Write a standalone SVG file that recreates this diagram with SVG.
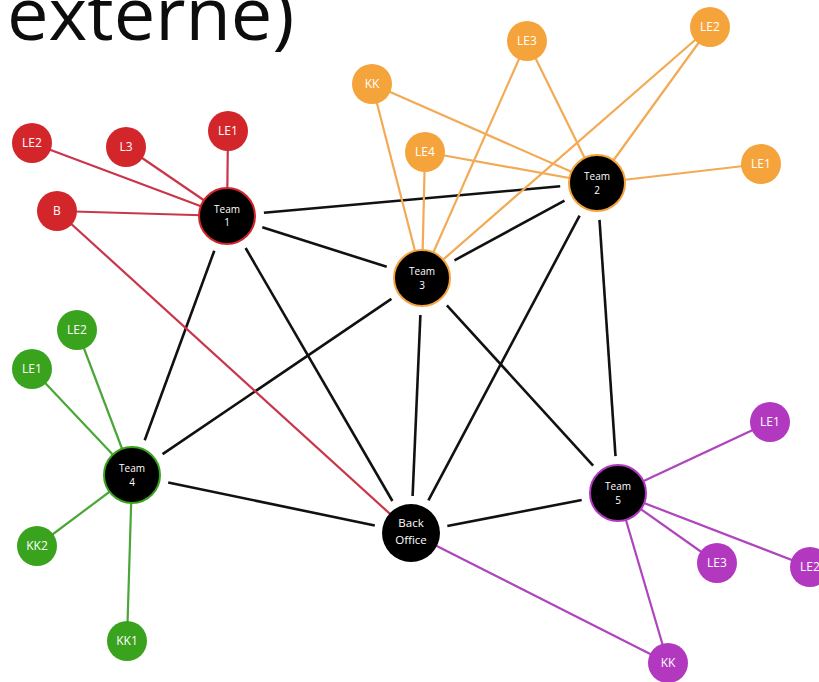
<svg xmlns="http://www.w3.org/2000/svg" width="819" height="682" viewBox="0 0 819 682">
<style>
text{font-family:"Open Sans","Liberation Sans",sans-serif;text-anchor:middle;fill:#fff}
.title{font-size:74px;text-anchor:start;fill:#0d0d0d}
.leaf{font-size:12px}
.team{font-size:10px}
.bo{font-size:11.5px}
.blk line{stroke:#111;stroke-width:2.6}
.er line{stroke:#c9364a;stroke-width:2.2}
.eo line{stroke:#f2aa55;stroke-width:2.2}
.eg line{stroke:#4aa637;stroke-width:2.2}
.ep line{stroke:#ae45bd;stroke-width:2.2}
.r{fill:#d3262b}
.o{fill:#f5a33b}
.g{fill:#39a31d}
.p{fill:#b238c0}
.t{fill:#000;stroke-width:2}
</style>
<rect width="819" height="682" fill="#fff"/>
<text class="title" x="7" y="40">externe)</text>
<g id="connectors">
<g class="blk">
<line x1="263.9" y1="212.7" x2="560.2" y2="186.3"/>
<line x1="262.3" y1="227.2" x2="386.7" y2="266.8"/>
<line x1="214.3" y1="250.7" x2="144.7" y2="440.3"/>
<line x1="245.6" y1="248" x2="392.4" y2="501"/>
<line x1="564.5" y1="200.7" x2="454.5" y2="260.3"/>
<line x1="579.6" y1="215.7" x2="428.4" y2="500.3"/>
<line x1="599.5" y1="219.9" x2="615.5" y2="456.1"/>
<line x1="391.4" y1="298.8" x2="162.6" y2="454.2"/>
<line x1="420.4" y1="315" x2="412.6" y2="496"/>
<line x1="446.9" y1="305.3" x2="593.1" y2="465.7"/>
<line x1="168.2" y1="482.5" x2="374.8" y2="525.5"/>
<line x1="447.3" y1="526" x2="581.7" y2="500"/>
</g>
<g class="er">
<line x1="32" y1="143" x2="227" y2="216"/>
<line x1="126" y1="147" x2="227" y2="216"/>
<line x1="228" y1="131" x2="227" y2="216"/>
<line x1="57" y1="211" x2="227" y2="216"/>
<line x1="57" y1="211" x2="411" y2="533"/>
</g>
<g class="eo">
<line x1="372" y1="84" x2="597" y2="183"/>
<line x1="372" y1="84" x2="422" y2="278"/>
<line x1="527" y1="41" x2="597" y2="183"/>
<line x1="527" y1="41" x2="422" y2="278"/>
<line x1="425" y1="152" x2="597" y2="183"/>
<line x1="425" y1="152" x2="422" y2="278"/>
<line x1="710" y1="27" x2="597" y2="183"/>
<line x1="710" y1="27" x2="422" y2="278"/>
<line x1="761" y1="164" x2="597" y2="183"/>
</g>
<g class="eg">
<line x1="77" y1="330" x2="132" y2="475"/>
<line x1="32" y1="369" x2="132" y2="475"/>
<line x1="37" y1="546" x2="132" y2="475"/>
<line x1="127" y1="641" x2="132" y2="475"/>
</g>
<g class="ep">
<line x1="770" y1="422" x2="618" y2="493"/>
<line x1="717" y1="563" x2="618" y2="493"/>
<line x1="810" y1="567" x2="618" y2="493"/>
<line x1="668" y1="663" x2="618" y2="493"/>
<line x1="668" y1="663" x2="411" y2="533"/>
</g>
</g>
<g id="red-LE2"><circle class="r" cx="32" cy="143" r="20"/><text class="leaf" x="32" y="147">LE2</text></g>
<g id="red-L3"><circle class="r" cx="126" cy="147" r="20"/><text class="leaf" x="126" y="151">L3</text></g>
<g id="red-LE1"><circle class="r" cx="228" cy="131" r="20"/><text class="leaf" x="228" y="135">LE1</text></g>
<g id="red-B"><circle class="r" cx="57" cy="211" r="20"/><text class="leaf" x="57" y="215">B</text></g>
<g id="team1"><circle class="t" cx="227" cy="216" r="28" stroke="#d3262b"/><text class="team" x="227" y="213">Team</text><text class="team" x="227" y="226">1</text></g>
<g id="orange-KK"><circle class="o" cx="372" cy="84" r="20"/><text class="leaf" x="372" y="88">KK</text></g>
<g id="orange-LE3"><circle class="o" cx="527" cy="41" r="20"/><text class="leaf" x="527" y="45">LE3</text></g>
<g id="orange-LE4"><circle class="o" cx="425" cy="152" r="20"/><text class="leaf" x="425" y="156">LE4</text></g>
<g id="orange-LE2"><circle class="o" cx="710" cy="27" r="20"/><text class="leaf" x="710" y="31">LE2</text></g>
<g id="orange-LE1"><circle class="o" cx="761" cy="164" r="20"/><text class="leaf" x="761" y="168">LE1</text></g>
<g id="team2"><circle class="t" cx="597" cy="183" r="28" stroke="#f5a33b"/><text class="team" x="597" y="180">Team</text><text class="team" x="597" y="194">2</text></g>
<g id="team3"><circle class="t" cx="422" cy="278" r="28" stroke="#f5a33b"/><text class="team" x="422" y="275">Team</text><text class="team" x="422" y="289">3</text></g>
<g id="green-LE2"><circle class="g" cx="77" cy="330" r="20"/><text class="leaf" x="77" y="334">LE2</text></g>
<g id="green-LE1"><circle class="g" cx="32" cy="369" r="20"/><text class="leaf" x="32" y="373">LE1</text></g>
<g id="green-KK2"><circle class="g" cx="37" cy="546" r="20"/><text class="leaf" x="37" y="550">KK2</text></g>
<g id="green-KK1"><circle class="g" cx="127" cy="641" r="20"/><text class="leaf" x="127" y="645">KK1</text></g>
<g id="team4"><circle class="t" cx="132" cy="475" r="28" stroke="#39a31d"/><text class="team" x="132" y="472">Team</text><text class="team" x="132" y="486">4</text></g>
<g id="back-office"><circle fill="#000" cx="411" cy="533" r="29"/><text class="bo" x="411" y="527">Back</text><text class="bo" x="411" y="544">Office</text></g>
<g id="purple-LE1"><circle class="p" cx="770" cy="422" r="20"/><text class="leaf" x="770" y="426">LE1</text></g>
<g id="purple-LE3"><circle class="p" cx="717" cy="563" r="20"/><text class="leaf" x="717" y="567">LE3</text></g>
<g id="purple-LE2"><circle class="p" cx="810" cy="567" r="20"/><text class="leaf" x="810" y="571">LE2</text></g>
<g id="purple-KK"><circle class="p" cx="668" cy="663" r="20"/><text class="leaf" x="668" y="667">KK</text></g>
<g id="team5"><circle class="t" cx="618" cy="493" r="28" stroke="#b238c0"/><text class="team" x="618" y="490">Team</text><text class="team" x="618" y="504">5</text></g>
</svg>
